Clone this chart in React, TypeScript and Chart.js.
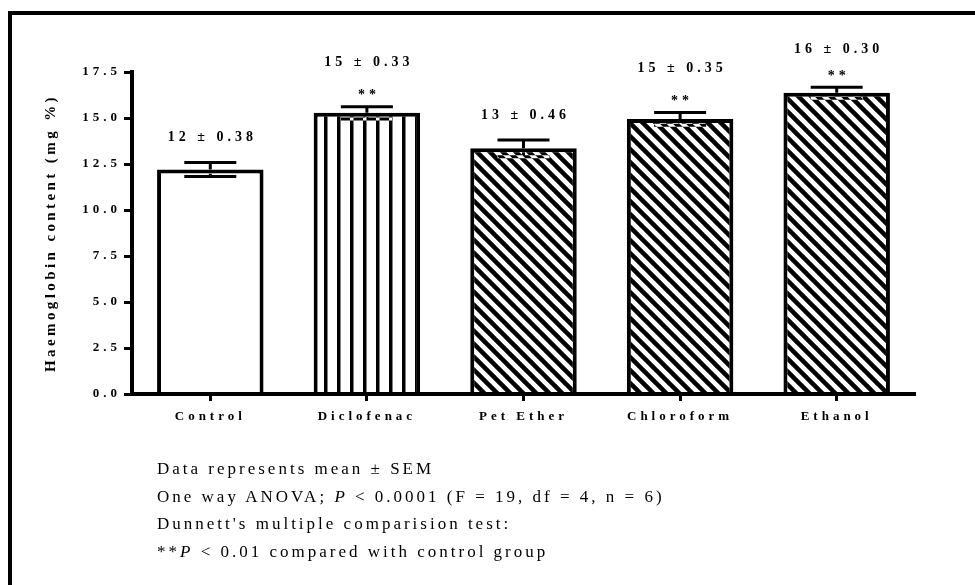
import React, { useEffect, useRef } from 'react';
import { Chart, registerables } from 'chart.js';

Chart.register(...registerables);

const categories = ['Control', 'Diclofenac', 'Pet Ether', 'Chloroform', 'Ethanol'];
const means = [12.2, 15.28, 13.35, 14.95, 16.37];
const sems = [0.38, 0.33, 0.46, 0.35, 0.30];
const significance = ['', '**', '', '**', '**'];
const fillKinds = ['none', 'vertical', 'diagonal', 'diagonal', 'diagonal'];
const yTicks = [0, 2.5, 5, 7.5, 10, 12.5, 15, 17.5];
const yTitle = 'Haemoglobin content (mg %)';

const SERIF = '"Liberation Serif", "Times New Roman", serif';

function makeFill(kind: string, ctx: CanvasRenderingContext2D): string | CanvasPattern {
  if (kind === 'none') return '#ffffff';
  const c = document.createElement('canvas');
  c.width = 13;
  c.height = 13;
  const g = c.getContext('2d')!;
  g.fillStyle = '#fff';
  g.fillRect(0, 0, 13, 13);
  g.fillStyle = '#000';
  g.strokeStyle = '#000';
  if (kind === 'vertical') {
    g.fillRect(0, 0, 3.5, 13);
  } else {
    g.lineWidth = 4.5;
    for (const o of [-13, 0, 13]) {
      g.beginPath();
      g.moveTo(o - 3, -3);
      g.lineTo(o + 16, 16);
      g.stroke();
    }
  }
  const p = ctx.createPattern(c, 'repeat')!;
  if (kind === 'vertical' && (p as any).setTransform) {
    p.setTransform(new DOMMatrix().translate(12, 0));
  }
  return p;
}

const overlayPlugin = {
  id: 'overlay',
  beforeDraw(chart: any) {
    const ctx = chart.ctx as CanvasRenderingContext2D;
    ctx.save();
    ctx.fillStyle = '#fff';
    ctx.fillRect(0, 0, chart.width, chart.height);
    ctx.restore();
    (ctx as any).letterSpacing = '4px';
    const ys = chart.scales.y;
    if (ys && !ys.__titlePatched) {
      const orig = ys.drawTitle;
      ys.drawTitle = function () {
        const c = this.ctx;
        const prev = c.letterSpacing;
        c.letterSpacing = '3.4px';
        orig.call(this);
        c.letterSpacing = prev;
      };
      ys.__titlePatched = true;
    }
  },
  afterDatasetsDraw(chart: any) {
    const ctx = chart.ctx as CanvasRenderingContext2D;
    const y = chart.scales.y;
    const meta = chart.getDatasetMeta(0);
    meta.data.forEach((bar: any, i: number) => {
      const x = bar.x;
      const m = bar.y;
      const top = y.getPixelForValue(means[i] + sems[i]);
      const bot = y.getPixelForValue(means[i] - sems[i]);
      ctx.save();
      ctx.lineWidth = 3;
      ctx.lineCap = 'butt';
      ctx.strokeStyle = '#000';
      ctx.beginPath();
      ctx.moveTo(x, m);
      ctx.lineTo(x, top);
      ctx.moveTo(x - 26, top);
      ctx.lineTo(x + 26, top);
      ctx.stroke();
      ctx.globalCompositeOperation = 'difference';
      ctx.strokeStyle = '#fff';
      ctx.beginPath();
      ctx.moveTo(x, m + 4);
      ctx.lineTo(x, bot);
      ctx.moveTo(x - 26, bot);
      ctx.lineTo(x + 26, bot);
      ctx.stroke();
      ctx.restore();

      ctx.save();
      ctx.fillStyle = '#000';
      ctx.font = `bold 14px ${SERIF}`;
      (ctx as any).letterSpacing = '4px';
      ctx.textAlign = 'center';
      ctx.textBaseline = 'middle';
      const label = `${Math.round(means[i])} ± ${sems[i].toFixed(2)}`;
      if (significance[i]) {
        ctx.fillText(significance[i], x + 2, top - 11);
        ctx.fillText(label, x + 2, Math.max(top - 44, 49));
      } else {
        ctx.fillText(label, x + 2, top - 25);
      }
      ctx.restore();
    });
  },
};

export default function App() {
  const ref = useRef<HTMLCanvasElement>(null);

  useEffect(() => {
    const canvas = ref.current!;
    const ctx = canvas.getContext('2d')!;
    Chart.defaults.font.family = SERIF;
    Chart.defaults.color = '#000';
    const chart = new Chart(ctx, {
      type: 'bar',
      data: {
        labels: categories,
        datasets: [
          {
            data: means,
            backgroundColor: fillKinds.map((k) => makeFill(k, ctx)) as any,
            borderColor: '#000',
            borderWidth: 4,
            barPercentage: 0.68,
            categoryPercentage: 1,
          },
        ],
      },
      plugins: [overlayPlugin],
      options: {
        responsive: false,
        animation: false,
        events: [],
        layout: { padding: { top: 72, right: 60, bottom: 0, left: 0 } },
        plugins: { legend: { display: false }, tooltip: { enabled: false } },
        scales: {
          x: {
            offset: true,
            grid: {
              z: 1,
              offset: false,
              drawOnChartArea: false,
              drawTicks: true,
              tickLength: 7,
              tickWidth: 3,
              tickColor: '#000',
            },
            border: { display: true, width: 4, color: '#000', z: 1 },
            ticks: {
              maxRotation: 0,
              autoSkip: false,
              padding: 8,
              color: '#000',
              font: { family: SERIF, size: 13, weight: 'bold' },
            },
            afterFit: (s: any) => {
              s.height = 191;
            },
          },
          y: {
            min: 0,
            max: 17.5,
            grid: {
              z: 1,
              drawOnChartArea: false,
              drawTicks: true,
              tickLength: 8,
              tickWidth: 3,
              tickColor: '#000',
            },
            border: { display: true, width: 4, color: '#000', z: 1 },
            ticks: {
              padding: 3,
              color: '#000',
              font: { family: SERIF, size: 13, weight: 'bold' },
              callback: (v: any) => Number(v).toFixed(1),
            },
            afterBuildTicks: (s: any) => {
              s.ticks = yTicks.map((v) => ({ value: v }));
            },
            title: {
              display: true,
              text: yTitle,
              color: '#000',
              font: { family: SERIF, size: 15, weight: 'bold' },
              padding: { top: 42, bottom: 0 },
            },
            afterFit: (s: any) => {
              s.width = 132;
            },
          },
        },
      },
    });
    return () => chart.destroy();
  }, []);

  return (
    <div
      style={{
        position: 'fixed',
        left: 0,
        top: 0,
        width: 975,
        height: 585,
        overflow: 'hidden',
        background: '#fff',
      }}
    >
      <canvas ref={ref} width={975} height={585} style={{ position: 'absolute', left: 0, top: 0 }} />
      <div
        style={{
          position: 'absolute',
          left: 8,
          top: 11,
          width: 1200,
          height: 1200,
          borderLeft: '4px solid #000',
          borderTop: '4px solid #000',
          pointerEvents: 'none',
        }}
      />
      <div
        style={{
          position: 'absolute',
          left: 157,
          top: 455,
          fontFamily: SERIF,
          fontSize: 17,
          letterSpacing: '3px',
          lineHeight: '27.7px',
          color: '#000',
          whiteSpace: 'nowrap',
        }}
      >
        <div>Data represents mean ± SEM</div>
        <div>
          One way ANOVA; <i>P</i> &lt; 0.0001 (F = 19, df = 4, n = 6)
        </div>
        <div>Dunnett's multiple comparision test:</div>
        <div>
          **<i>P</i> &lt; 0.01 compared with control group
        </div>
      </div>
    </div>
  );
}
